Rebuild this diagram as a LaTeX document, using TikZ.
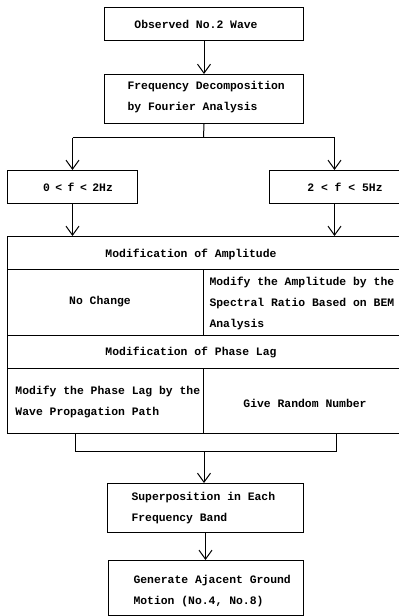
\documentclass[tikz,border=0pt]{standalone}
\usepackage{fontspec}
\setmonofont{Liberation Mono}
\usetikzlibrary{arrows.meta}
\begin{document}
\begin{tikzpicture}[x=1pt,y=-1pt, line width=1pt,
  box/.style={draw, rectangle, inner sep=0pt, anchor=north west},
  txt/.style={inner sep=0pt, font=\ttfamily\bfseries\fontsize{11.4}{21}\selectfont, align=left},
  arr/.style={-{Straight Barb[length=9pt,width=13pt,line width=1pt]}}]
\useasboundingbox (0,0) rectangle (399,616);
% top boxes
\node[box, minimum width=199pt, minimum height=33pt] (b1) at (104,7) {};
\node[txt] (b1t) at (196,24) {Observed No.2 Wave};
\node[box, minimum width=199pt, minimum height=49pt] (b2) at (104,74) {};
\node[txt, anchor=west] (b2t) at (127,97.5) {Frequency Decomposition\\by Fourier Analysis};
\draw[arr] (b1.south) -- (b2.north);
% frequency bands
\node[box, minimum width=130pt, minimum height=33pt] (bl) at (7,170) {};
\node[txt] (blt) at (78,187) {0\hspace{5.5pt}<\hspace{5.5pt}f\hspace{5.5pt}<\hspace{5.5pt}2Hz};
\node[box, minimum width=130pt, minimum height=33pt] (br) at (269,170) {};
\node[txt] (brt) at (345,187) {2 < f < 5Hz};
\coordinate (split) at (203.5,137.5);
\draw (b2.south) -- (split);
\draw (bl.north |- split) -- (br.north |- split);
\draw[arr] (bl.north |- split) -- (bl.north);
\draw[arr] (br.north |- split) -- (br.north);
% table
\node[box, minimum width=398pt, minimum height=33pt] (r1) at (7,236) {};
\node[txt] (r1t) at (191,254) {Modification of Amplitude};
\node[box, minimum width=196pt, minimum height=66pt] (r2a) at (7,269) {};
\node[box, minimum width=202pt, minimum height=66pt] (r2b) at (203,269) {};
\node[txt] (r2at) at (100,302) {No Change};
\node[txt, anchor=west] (r2bt) at (209,303) {Modify the Amplitude by the\\Spectral Ratio Based on BEM\\Analysis};
\node[box, minimum width=398pt, minimum height=33pt] (r3) at (7,335) {};
\node[txt] (r3t) at (191,352) {Modification of Phase Lag};
\node[box, minimum width=196pt, minimum height=65pt] (r4a) at (7,368) {};
\node[box, minimum width=202pt, minimum height=65pt] (r4b) at (203,368) {};
\node[txt, anchor=west] (r4at) at (15,402) {Modify the Phase Lag by the\\Wave Propagation Path};
\node[txt] (r4bt) at (305,403) {Give Random Number};
\draw[arr] (bl.south) -- (bl.south |- r1.north);
\draw[arr] (br.south) -- (br.south |- r1.north);
% bracket
\coordinate (jl) at (75,451.5);
\coordinate (jr) at (336,451.5);
\coordinate (jc) at (204,451.5);
\draw (jl |- r4a.south) -- (jl) -- (jr) -- (jr |- r4b.south);
% bottom boxes
\node[box, minimum width=196pt, minimum height=49pt] (b3) at (107,483) {};
\node[txt, anchor=west] (b3t) at (131,508.5) {Superposition in Each\\Frequency Band};
\draw[arr] (jc) -- (jc |- b3.north);
\node[box, minimum width=195pt, minimum height=55pt] (b4) at (108,560) {};
\node[txt, anchor=west] (b4t) at (133,591.5) {Generate Ajacent Ground\\Motion (No.4, No.8)};
\draw[arr] (b3.south) -- (b3.south |- b4.north);
\end{tikzpicture}
\end{document}
